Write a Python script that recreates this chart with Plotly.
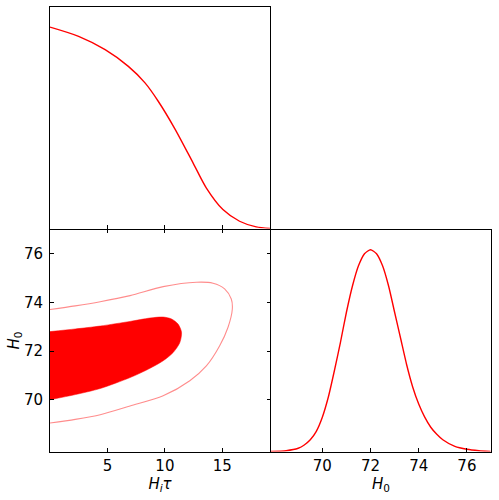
import plotly.graph_objects as go

# 1D marginal of H_i tau (normalised to peak 1)
hitau_grid = [0.0, 2.49, 4.8, 6.82, 8.27, 9.42, 10.87, 12.45, 13.6, 15.05, 16.5, 17.95, 19.15]
hitau_pdf = [1.0, 0.954, 0.888, 0.805, 0.723, 0.632, 0.495, 0.326, 0.202, 0.094, 0.036, 0.008, 0.0]

# 1D marginal of H0
h0_grid = [67.87, 68.5, 69.0, 69.25, 69.5, 69.75, 70.0, 70.25, 70.5, 70.75, 71.0, 71.25, 71.5, 71.75,
           72.0, 72.25, 72.5, 72.75, 73.0, 73.25, 73.5, 73.75, 74.0, 74.25, 74.5, 74.75, 75.0, 75.5,
           76.0, 76.5, 76.98]
h0_pdf = [0.0, 0.004, 0.016, 0.032, 0.058, 0.1, 0.17, 0.27, 0.4, 0.54, 0.69, 0.82, 0.92, 0.98,
          1.0, 0.98, 0.92, 0.82, 0.69, 0.56, 0.43, 0.32, 0.235, 0.17, 0.12, 0.085, 0.058, 0.025,
          0.011, 0.004, 0.0]

# 68% region (filled), traced top edge -> tip -> bottom edge
inner_x = [0.0, 2.2, 4.37, 6.97, 8.7, 9.85, 10.58, 11.15, 11.45, 11.3, 10.72, 9.85, 8.41, 6.97, 4.37, 2.2, 0.0]
inner_y = [72.8, 72.91, 73.03, 73.22, 73.36, 73.4, 73.32, 73.11, 72.77, 72.35, 71.94, 71.6, 71.22, 70.91, 70.46, 70.21, 70.0]

# 95% contour (line)
outer_x = [0.0, 2.2, 4.37, 6.97, 9.85, 12.75, 14.19, 15.2, 15.78, 15.87, 15.49, 14.77, 13.61,
           12.17, 9.85, 6.97, 4.37, 2.2, 0.0]
outer_y = [73.71, 73.86, 74.03, 74.28, 74.65, 74.83, 74.79, 74.56, 74.14, 73.73, 72.97, 72.22, 71.39,
           70.78, 70.16, 69.74, 69.38, 69.19, 69.04]

hitau_range = [0.0, 19.15]
h0_range = [67.87, 77.0]
hitau_ticks = [5, 10, 15]
h0_ticks = [70, 72, 74, 76]

RED = "#ff0000"
FONT = dict(family="DejaVu Sans", size=15, color="black")

fig = go.Figure()
fig.add_trace(go.Scatter(x=hitau_grid, y=hitau_pdf, mode="lines", line=dict(color=RED, width=1.4, shape="spline", smoothing=0.8),
                         xaxis="x", yaxis="y"))
fig.add_trace(go.Scatter(x=inner_x, y=inner_y, mode="lines", fill="toself", fillcolor=RED,
                         line=dict(color=RED, width=0.5, shape="spline", smoothing=0.8), xaxis="x2", yaxis="y2"))
fig.add_trace(go.Scatter(x=outer_x, y=outer_y, mode="lines",
                         line=dict(color="rgba(255,0,0,0.45)", width=1.1, shape="spline", smoothing=0.8), xaxis="x2", yaxis="y2"))
fig.add_trace(go.Scatter(x=h0_grid, y=h0_pdf, mode="lines", line=dict(color=RED, width=1.4, shape="spline", smoothing=0.6),
                         xaxis="x3", yaxis="y3"))

axis_common = dict(showgrid=False, zeroline=False, showline=True, linecolor="black", linewidth=1,
                   ticks="inside", ticklen=3.5, tickwidth=1, tickcolor="black", automargin=False,
                   tickfont=FONT, ticklabelstandoff=0)

# one-pixel gap between neighbouring domains so the shared borders coincide
x_left = [50 / 499, 270 / 499]
x_right = [271 / 499, 491 / 499]
y_top = [271.5 / 500, 493 / 500]
y_bottom = [48.5 / 500, 270.5 / 500]

fig.update_layout(
    width=499, height=500, showlegend=False,
    paper_bgcolor="white", plot_bgcolor="white",
    margin=dict(l=0, r=0, t=0, b=0),
    font=FONT,
    xaxis=dict(axis_common, domain=x_left, anchor="y", range=hitau_range, tickvals=hitau_ticks,
               showticklabels=False, mirror=True),
    yaxis=dict(axis_common, domain=y_top, anchor="x", range=[0, 1.1], ticks="", showticklabels=False, mirror=True),
    xaxis2=dict(axis_common, domain=x_left, anchor="y2", range=hitau_range, tickvals=hitau_ticks, mirror="ticks",
                title=dict(text="<i>H<sub>i</sub>τ</i>", font=FONT, standoff=4)),
    yaxis2=dict(axis_common, domain=y_bottom, anchor="x2", range=h0_range, tickvals=h0_ticks, mirror="ticks",
                ticklabelstandoff=3,
                title=dict(text="<i>H</i><sub>0</sub>", font=FONT, standoff=0)),
    xaxis3=dict(axis_common, domain=x_right, anchor="y3", range=h0_range, tickvals=h0_ticks, mirror=True,
                title=dict(text="<i>H</i><sub>0</sub>", font=FONT, standoff=4)),
    yaxis3=dict(axis_common, domain=y_bottom, anchor="x3", range=[0, 1.1], ticks="", showticklabels=False, mirror=True),
)

fig.write_html("out.html", config={"displayModeBar": False}, post_script="document.body.style.margin='0';")
